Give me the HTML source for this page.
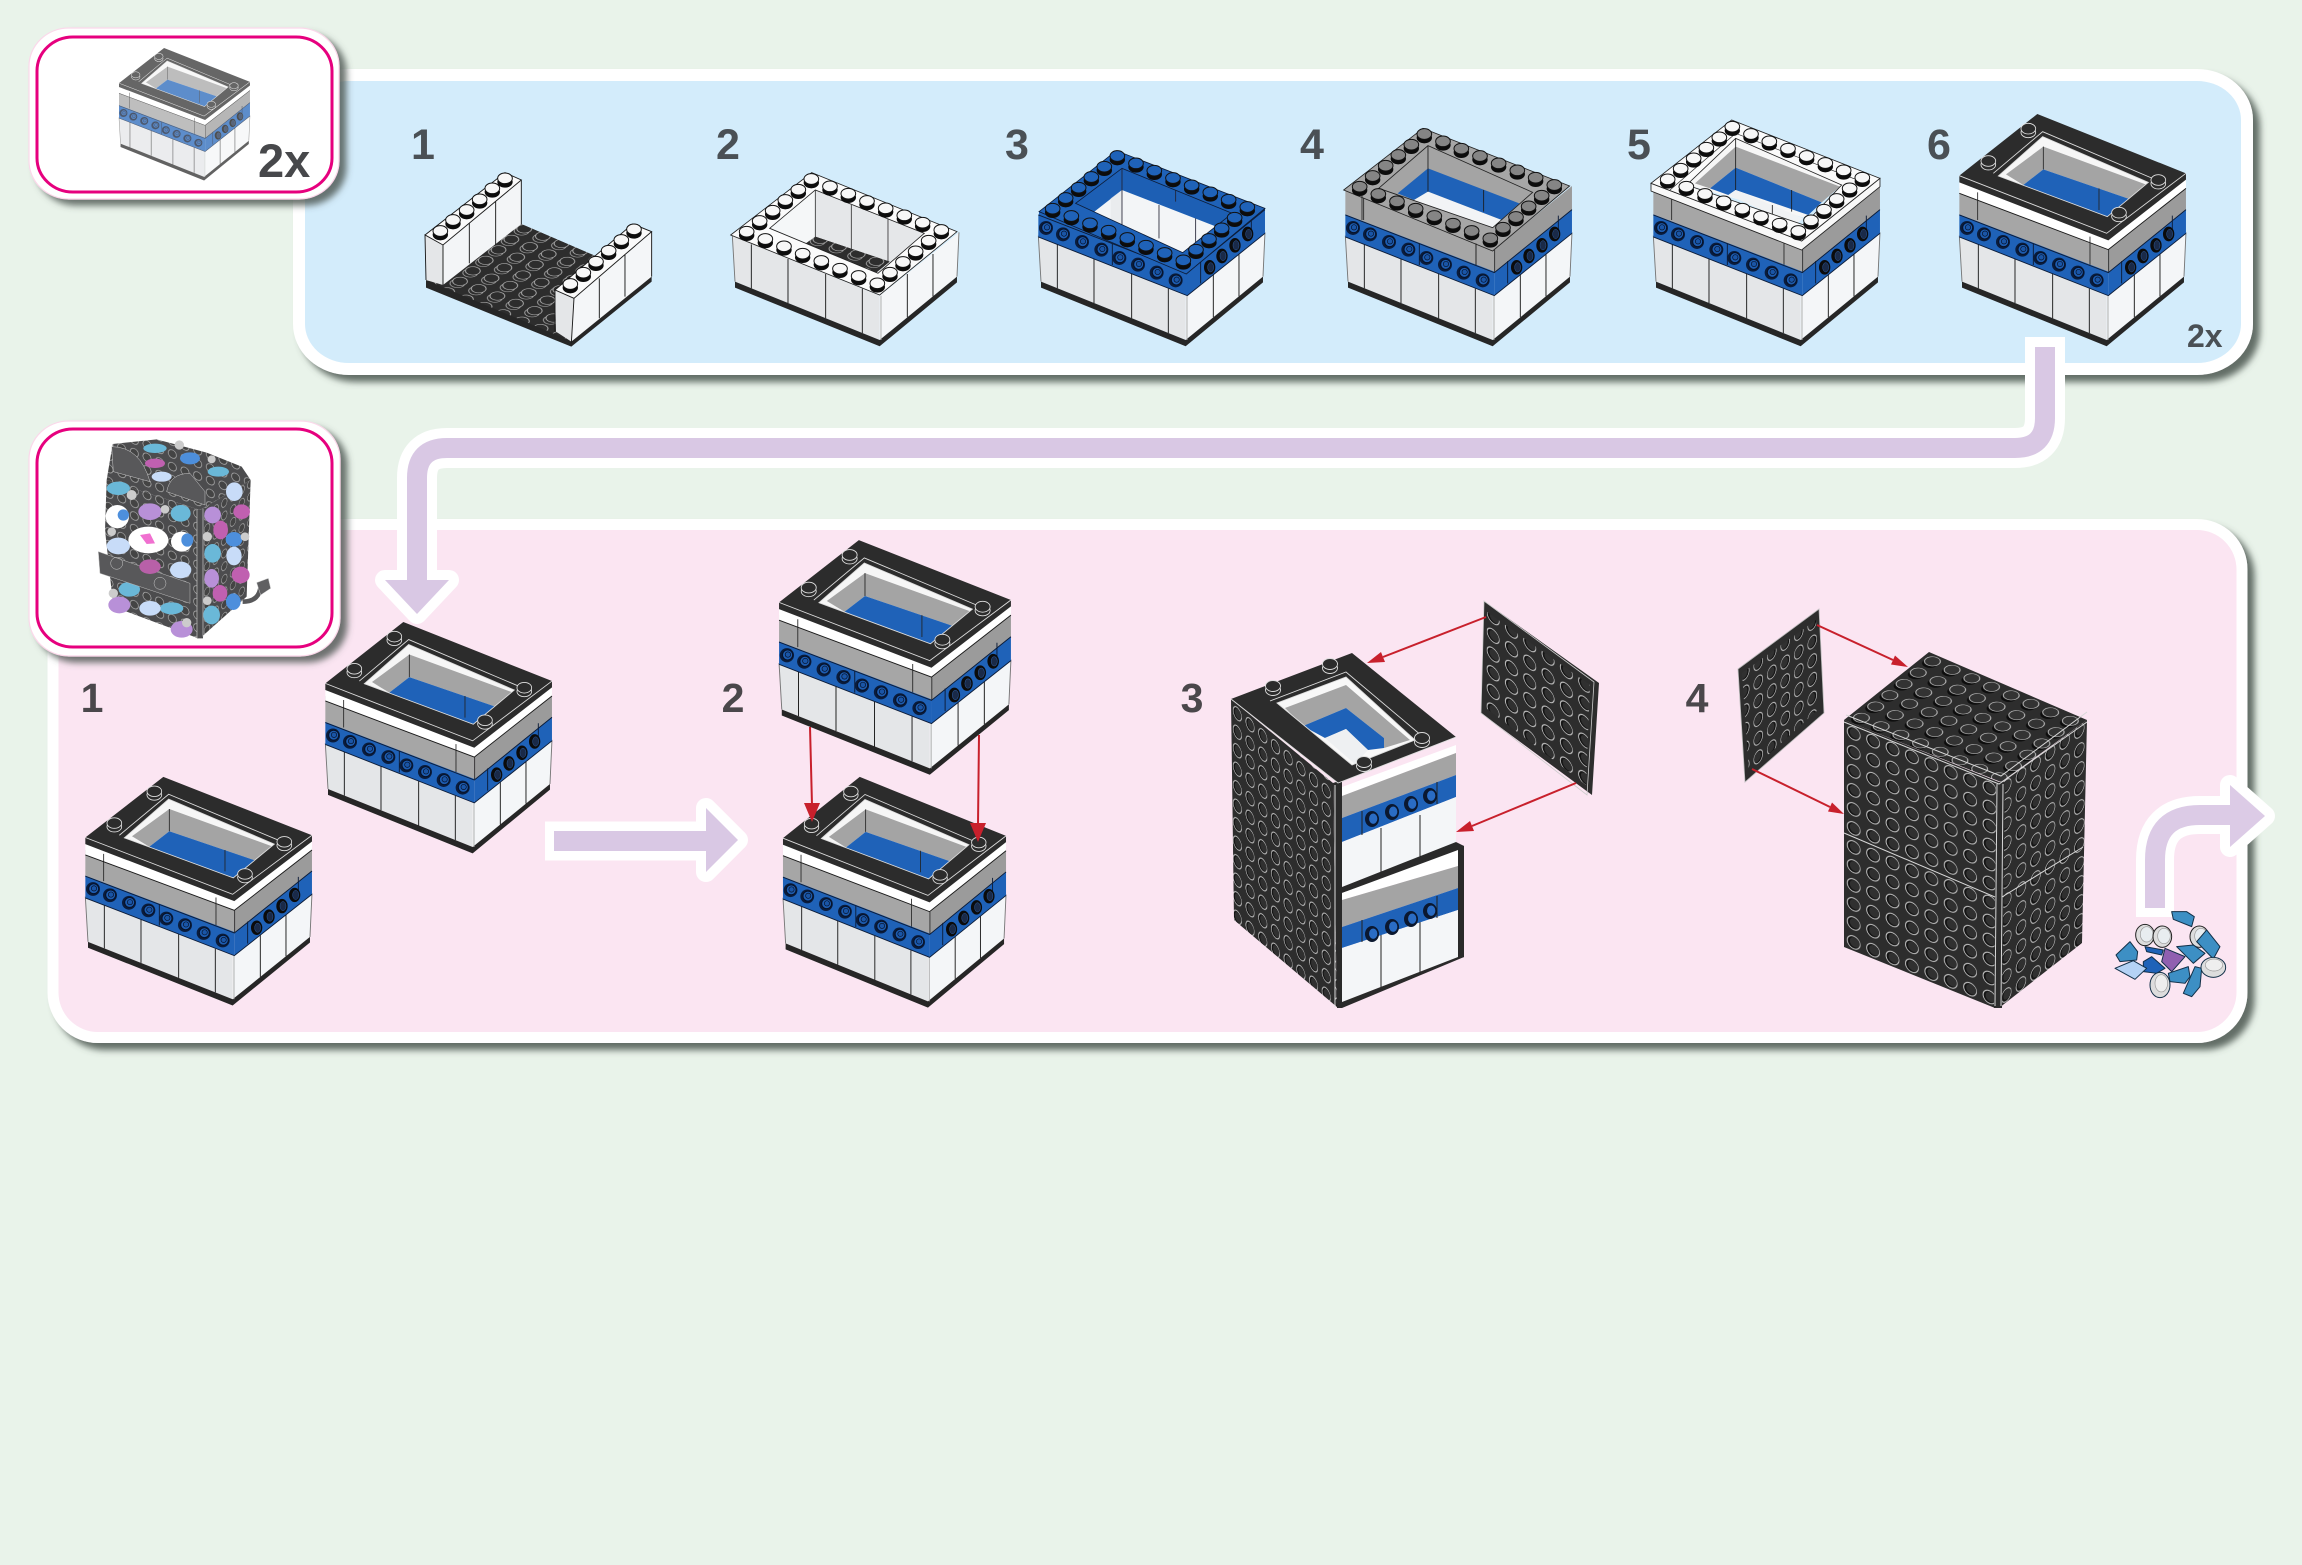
<!DOCTYPE html>
<html><head><meta charset="utf-8"><title>Build steps</title>
<style>html,body{margin:0;padding:0;background:#e9f3ea;width:2302px;height:1565px;overflow:hidden}svg{display:block}text{font-family:"Liberation Sans",sans-serif;font-weight:700}</style>
</head><body>
<svg xmlns="http://www.w3.org/2000/svg" width="2302" height="1565" viewBox="0 0 2302 1565">
<defs>
<filter id="sh" x="-5%" y="-10%" width="110%" height="120%"><feDropShadow dx="7" dy="7" stdDeviation="3.5" flood-color="#4c554f" flood-opacity=".85"/></filter>
<filter id="sh2" x="-10%" y="-10%" width="120%" height="120%"><feDropShadow dx="7" dy="6" stdDeviation="3.5" flood-color="#4c554f" flood-opacity=".8"/></filter>
<g id="tile"><circle cx="10" cy="10" r="6.6" fill="#131313" stroke="#c8c8c8" stroke-width="1"/><circle cx="11.2" cy="9.6" r="5.2" fill="#303030"/></g>
<pattern id="p3L" width="20" height="20" patternUnits="userSpaceOnUse" patternTransform="matrix(.635 .55 0 .925 1231 699)"><rect width="20" height="20" fill="#2d2d2d"/><use href="#tile"/></pattern>
<pattern id="p4L" width="20" height="20" patternUnits="userSpaceOnUse" patternTransform="matrix(.97 .39 0 .95 1844 720)"><rect width="20" height="20" fill="#2d2d2d"/><use href="#tile"/></pattern>
<pattern id="p4R" width="20" height="20" patternUnits="userSpaceOnUse" patternTransform="matrix(.73 -.55 0 .95 1999 782)"><rect width="20" height="20" fill="#2d2d2d"/><use href="#tile"/></pattern>
<pattern id="p4T" width="20" height="20" patternUnits="userSpaceOnUse" patternTransform="matrix(.985 .425 -.71 .565 1929 652)"><rect width="20" height="20" fill="#2d2d2d"/><circle cx="10" cy="12.5" r="6.5" fill="#0d0d0d"/><circle cx="10" cy="9" r="6.5" fill="#333" stroke="#c4c4c4" stroke-width=".8"/></pattern>
<pattern id="pl3" width="20" height="20" patternUnits="userSpaceOnUse" patternTransform="matrix(.915 .675 0 .935 1484 601)"><rect width="20" height="20" fill="#2d2d2d"/><use href="#tile"/></pattern>
<pattern id="pl4" width="20" height="20" patternUnits="userSpaceOnUse" patternTransform="matrix(-.675 .5 0 .935 1819 609)"><rect width="20" height="20" fill="#2d2d2d"/><use href="#tile"/></pattern>
<pattern id="pS1" width="20" height="20" patternUnits="userSpaceOnUse" patternTransform="matrix(2.8 1.1 -1.925 1.575 318 348)"><rect width="20" height="20" fill="#2d2d2d"/><circle cx="10" cy="12" r="6.5" fill="#2d2d2d" stroke="#aaa" stroke-width=".8"/><circle cx="10" cy="8" r="6.5" fill="#2d2d2d" stroke="#bbb" stroke-width=".8"/></pattern>
<pattern id="catL" width="20" height="20" patternUnits="userSpaceOnUse" patternTransform="matrix(1.9 .7 0 1.9 0 0)"><rect width="20" height="20" fill="#4c4c4e"/><circle cx="10" cy="10" r="6.5" fill="#444" stroke="#bdbdbd" stroke-width="1"/></pattern>
<pattern id="catR" width="20" height="20" patternUnits="userSpaceOnUse" patternTransform="matrix(1.3 -.95 0 1.9 0 0)"><rect width="20" height="20" fill="#4c4c4e"/><circle cx="10" cy="10" r="6.5" fill="#444" stroke="#bdbdbd" stroke-width="1"/></pattern>

<g id="st"><ellipse cx="0" cy="11" rx="23" ry="17" fill="#0c0c0c"/><ellipse cx="0" cy="0" rx="22" ry="16" fill="currentColor" stroke="#111" stroke-width="3"/></g>
<g id="ring">
<use href="#st" x="265" y="87"/><use href="#st" x="321" y="109"/><use href="#st" x="376" y="131"/><use href="#st" x="432" y="153"/><use href="#st" x="488" y="175"/><use href="#st" x="544" y="196"/><use href="#st" x="599" y="218"/><use href="#st" x="655" y="240"/>
<use href="#st" x="226" y="119"/><use href="#st" x="187" y="150"/><use href="#st" x="149" y="182"/><use href="#st" x="110" y="213"/>
<use href="#st" x="617" y="272"/><use href="#st" x="578" y="304"/><use href="#st" x="540" y="336"/><use href="#st" x="501" y="368"/>
<use href="#st" x="71" y="245"/><use href="#st" x="127" y="267"/><use href="#st" x="183" y="289"/><use href="#st" x="239" y="311"/><use href="#st" x="295" y="333"/><use href="#st" x="351" y="356"/><use href="#st" x="407" y="378"/><use href="#st" x="463" y="400"/>
</g>

<g id="lower">
<polygon points="28,392 470,572 470,705 36,530" fill="#e4e6e8"/>
<polygon points="470,572 708,382 702,515 470,705" fill="#f4f6f8"/>
<polygon points="36,530 470,705 702,515 702,532 470,724 36,548" fill="#262626"/>
<g stroke="#1a1a1a" stroke-width="2.8" fill="none"><path d="M85,418V550M195,462V594M308,507V640M418,551V684M553,507V637M630,447V574"/><path d="M28,392L36,530M708,382L702,515" stroke="#777"/><path d="M474,572V705" stroke="#aaa"/></g>
</g>
<g id="ls"><circle cx="-1" cy="1" r="21" fill="#0a1c3c"/><circle cx="1" cy="0" r="15" fill="#1d5cb0" stroke="#06122a" stroke-width="3"/><circle cx="2" cy="-1" r="8" fill="#1a55a6" stroke="#06122a" stroke-width="2"/></g>
<g id="rs"><ellipse rx="17" ry="22" fill="#0b0b0b"/><ellipse cx="3" rx="9" ry="14" fill="#1a2a48" stroke="#2c5a9c" stroke-width="1.5"/></g>
<g id="blue">
<polygon points="28,328 475,500 475,572 28,396" fill="#1f62b8"/>
<polygon points="475,503 708,314 708,385 475,572" fill="#1f62b8"/>
<g stroke="#0c1c38" stroke-width="2.8" fill="none"><path d="M250,415V480M515,468V535M667,332V395"/><path d="M28,396L475,572L708,385M28,330L475,503L708,314"/></g>
<use href="#ls" x="52" y="368"/><use href="#ls" x="103" y="387"/><use href="#ls" x="160" y="410"/><use href="#ls" x="218" y="433"/><use href="#ls" x="272" y="458"/><use href="#ls" x="328" y="478"/><use href="#ls" x="384" y="502"/><use href="#ls" x="441" y="525"/>
<use href="#rs" x="542" y="487"/><use href="#rs" x="579" y="453"/><use href="#rs" x="618" y="421"/><use href="#rs" x="656" y="387"/>
</g>
<g id="gray">
<polygon points="28,250 475,432 475,503 28,330" fill="#a6a6a6"/>
<polygon points="475,432 708,243 708,316 475,505" fill="#9b9b9b"/>
<path d="M83,262V345M420,395V482M476,435V503" stroke="#222" stroke-width="2.5" fill="none"/>
</g>
<g id="top6">
<polygon points="28,228 475,402 708,220 708,250 475,434 28,265" fill="#fff"/>
<path d="M28,265L475,434L708,250" stroke="#1a1a1a" stroke-width="2.8" fill="none"/>
<path d="M83,262V286M420,395V412" stroke="#222" stroke-width="2.5"/>
<polygon points="145,213 278,95 595,232 472,335" fill="#f6f6f6"/>
<polygon points="168,208 280,125 592,240 538,282 280,193 220,240" fill="#a4a4a4"/>
<polygon points="220,240 280,193 538,282 475,335 275,268" fill="#1f62b8"/>
<polygon points="275,262 472,335 450,342 265,275" fill="#fff"/>
<path d="M280,125V193M447,250V315" stroke="#222" stroke-width="2.5"/>
<path fill-rule="evenodd" d="M28,212L262,27L708,205L708,224L475,406L28,232ZM145,213L472,335L595,232L278,95Z" fill="#2c2c2c"/>
<g stroke="#ddd" stroke-width="2.6" fill="none"><path d="M130,205L278,80L612,222M28,212L470,385L708,205M145,213L472,335L595,232L278,95Z"/></g>
<g fill="#2c2c2c" stroke="#e0e0e0" stroke-width="2.6"><ellipse cx="235" cy="82" rx="22" ry="16"/><ellipse cx="235" cy="71" rx="22" ry="16"/><ellipse cx="115" cy="179" rx="22" ry="16"/><ellipse cx="115" cy="168" rx="22" ry="16"/><ellipse cx="625" cy="236" rx="22" ry="16"/><ellipse cx="625" cy="225" rx="22" ry="16"/><ellipse cx="507" cy="334" rx="22" ry="16"/><ellipse cx="507" cy="323" rx="22" ry="16"/></g>
</g>
<g id="box6"><use href="#lower"/><use href="#gray"/><use href="#blue"/><use href="#top6"/></g>

<g id="cstud"><ellipse cx="0" cy="0" rx="28" ry="32" fill="#ddd" stroke="#222" stroke-width="3"/><ellipse cx="5" cy="-2" rx="19" ry="23" fill="#e8edf0" stroke="#999" stroke-width="2"/></g>
<g id="ts"><ellipse rx="7" ry="8" fill="#0b1830"/><ellipse cx="1.2" cy="-.3" rx="4.6" ry="5.6" fill="#2a6cc4" stroke="#0b1830" stroke-width=".9"/></g>
</defs>

<rect width="2302" height="1565" fill="#e9f3ea"/>

<!-- panels -->
<rect x="299" y="75" width="1948" height="294" rx="50" ry="45" fill="#d3ecfb" stroke="#fff" stroke-width="12" filter="url(#sh)"/>
<rect x="53" y="524.5" width="2189" height="513" rx="45" ry="45" fill="#fbe5f2" stroke="#fff" stroke-width="11" filter="url(#sh)"/>

<!-- connector arrow -->
<path d="M2045,337V418Q2045,448 2015,448H447Q417,448 417,478V585" fill="none" stroke="#fff" stroke-width="40" stroke-linejoin="round"/>
<polygon points="385,580 449,580 417,614" fill="#fff" stroke="#fff" stroke-width="20" stroke-linejoin="round"/>
<path d="M2045,347V418Q2045,448 2015,448H447Q417,448 417,478V582" fill="none" stroke="#d9c8e4" stroke-width="20"/>
<polygon points="385,580 449,580 417,614" fill="#d9c8e4"/>

<!-- right arrow -->
<path d="M545,841H712" stroke="#fff" stroke-width="39" fill="none"/>
<polygon points="706,808 738,840 706,872" fill="#fff" stroke="#fff" stroke-width="20" stroke-linejoin="round"/>
<rect x="554" y="831" width="154" height="20" fill="#d9c8e4"/>
<polygon points="706,808 738,840 706,872" fill="#d9c8e4"/>

<!-- curved arrow -->
<path d="M2155,917V860Q2155,815 2200,815H2235" fill="none" stroke="#fff" stroke-width="38"/>
<polygon points="2230,785 2265,816 2230,847" fill="#fff" stroke="#fff" stroke-width="20" stroke-linejoin="round"/>
<path d="M2155,908V860Q2155,815 2200,815H2232" fill="none" stroke="#dccbe6" stroke-width="20"/>
<polygon points="2230,785 2265,816 2230,847" fill="#dccbe6"/>

<!-- thumbnails -->
<rect x="29" y="28" width="310" height="171" rx="40" ry="38" fill="#fff" stroke="#fbd8ea" stroke-width="1.2" filter="url(#sh2)"/>
<rect x="37" y="37" width="295" height="155" rx="36" ry="34" fill="#fff" stroke="#e6007e" stroke-width="3"/>
<rect x="29" y="421" width="311" height="235" rx="40" ry="38" fill="#fff" stroke="#fbd8ea" stroke-width="1.2" filter="url(#sh2)"/>
<rect x="37" y="429" width="295" height="218" rx="36" ry="34" fill="#fff" stroke="#e6007e" stroke-width="3"/>

<use href="#box6" transform="translate(113.6 42.9) scale(.1926 .19)" opacity=".72"/>
<text x="258" y="177" font-size="47" fill="#47484b">2x</text>

<!-- cat thumbnail -->
<g transform="translate(90 430) scale(.3333)">
<polygon points="50,150 68,42 200,28 350,68 455,110 482,150 330,240" fill="url(#catL)"/>
<polygon points="50,150 330,240 325,625 70,530 45,300" fill="url(#catL)"/>
<polygon points="330,240 482,150 470,500 330,625" fill="url(#catR)"/>
<path d="M330,240V625" stroke="#4c4c4e" stroke-width="18"/><path d="M321,240V625M339,236V620" stroke="#ccc" stroke-width="2"/>
<g fill="#6ab8d8"><ellipse cx="195" cy="55" rx="35" ry="14"/><ellipse cx="385" cy="125" rx="32" ry="15"/><ellipse cx="85" cy="175" rx="35" ry="20"/><ellipse cx="272" cy="250" rx="30" ry="25"/><ellipse cx="118" cy="478" rx="32" ry="22"/><ellipse cx="245" cy="535" rx="35" ry="18"/><ellipse cx="368" cy="370" rx="25" ry="28"/><ellipse cx="365" cy="555" rx="25" ry="28"/></g>
<g fill="#4d8fdc"><ellipse cx="300" cy="85" rx="30" ry="18"/><ellipse cx="432" cy="328" rx="25" ry="22"/><ellipse cx="430" cy="515" rx="22" ry="25"/></g>
<g fill="#c8dcf8"><ellipse cx="215" cy="140" rx="30" ry="15"/><ellipse cx="85" cy="348" rx="35" ry="25"/><ellipse cx="272" cy="420" rx="32" ry="25"/><ellipse cx="180" cy="535" rx="32" ry="22"/><ellipse cx="433" cy="185" rx="25" ry="28"/><ellipse cx="432" cy="378" rx="23" ry="28"/></g>
<g fill="#b890d8"><ellipse cx="180" cy="245" rx="35" ry="25"/><ellipse cx="88" cy="525" rx="33" ry="25"/><ellipse cx="275" cy="598" rx="33" ry="25"/><ellipse cx="368" cy="255" rx="25" ry="25"/><ellipse cx="365" cy="445" rx="22" ry="28"/></g>
<g fill="#c060b0"><ellipse cx="195" cy="100" rx="30" ry="14"/><ellipse cx="455" cy="245" rx="25" ry="22"/><ellipse cx="392" cy="300" rx="22" ry="28"/><ellipse cx="452" cy="435" rx="27" ry="25"/><ellipse cx="390" cy="490" rx="22" ry="25"/></g>
<g fill="#fff"><ellipse cx="82" cy="260" rx="35" ry="35"/><ellipse cx="175" cy="330" rx="60" ry="40"/><ellipse cx="275" cy="335" rx="32" ry="30"/></g>
<ellipse cx="100" cy="255" rx="17" ry="17" fill="#4d8fdc"/><ellipse cx="292" cy="330" rx="18" ry="20" fill="#4d8fdc"/>
<polygon points="150,315 180,310 195,340 170,342" fill="#f070d0"/>
<g fill="#ccc"><circle cx="125" cy="195" r="15"/><circle cx="225" cy="238" r="13"/><circle cx="65" cy="305" r="13"/><circle cx="70" cy="490" r="14"/><circle cx="290" cy="578" r="14"/><circle cx="352" cy="320" r="14"/><circle cx="352" cy="512" r="13"/><circle cx="268" cy="45" r="14"/><circle cx="365" cy="88" r="12"/><circle cx="465" cy="320" r="13"/></g>
<path d="M65,50Q150,50 180,155L70,125Z" fill="#58585a" stroke="#ccc" stroke-width="1.5"/>
<path d="M230,185Q240,130 300,130L345,185V225Z" fill="#58585a" stroke="#ccc" stroke-width="1.5"/>
<polygon points="25,365 300,460 300,520 180,480 30,430" fill="#58585a" stroke="#bbb" stroke-width="1.5"/>
<circle cx="80" cy="400" r="18" fill="none" stroke="#ccc" stroke-width="1.5"/><circle cx="210" cy="460" r="18" fill="none" stroke="#ccc" stroke-width="1.5"/>
<ellipse cx="180" cy="410" rx="32" ry="22" fill="#b860a8"/>
<path d="M458,515Q510,515 512,465" stroke="#58585a" stroke-width="14" fill="none"/>
<polygon points="500,458 535,445 542,475 512,495" fill="#606062" stroke="#ccc" stroke-width="1.5"/>
</g>

<!-- top row -->
<!-- step 1 -->
<g transform="translate(414 105) scale(.3333)">
<polygon points="36,525 322,357 549,455 426,555 426,680 472,705 702,515 713,515 713,530 472,725 36,548" fill="#262626"/>
<polygon points="36,525 322,357 549,455 426,555 426,680 472,708" fill="url(#pS1)"/>
<polygon points="33,390 87,420 87,540 36,525" fill="#e4e6e8"/>
<polygon points="87,420 322,225 322,357 87,540" fill="#f3f5f7"/>
<polygon points="33,390 273,203 322,225 87,420" fill="#fafafa"/>
<polygon points="423,555 480,580 472,710 426,680" fill="#e4e6e8"/>
<polygon points="480,580 713,380 713,515 472,710" fill="#f4f6f8"/>
<polygon points="423,555 656,357 713,380 480,580" fill="#fafafa"/>
<g stroke="#1a1a1a" stroke-width="2.8" fill="none"><path d="M33,390L273,203L322,225L87,420L33,390L36,525M87,420V540M166,355V475M245,290V420M322,225V357M423,555L656,357L713,380L480,580L423,555V680M480,580L472,715M556,520V640M633,450V575M713,380V515"/></g>
<g style="color:#f7f7f7"><use href="#st" x="79" y="378"/><use href="#st" x="117" y="345"/><use href="#st" x="158" y="315"/><use href="#st" x="197" y="283"/><use href="#st" x="235" y="250"/><use href="#st" x="273" y="220"/><use href="#st" x="469" y="537"/><use href="#st" x="508" y="503"/><use href="#st" x="546" y="470"/><use href="#st" x="584" y="437"/><use href="#st" x="622" y="405"/><use href="#st" x="660" y="373"/></g>
</g>
<!-- step 2 -->
<g transform="translate(723 105) scale(.3333)">
<use href="#lower"/>
<polygon points="140,370 277,255 604,385 465,505" fill="#e5e7e9"/>
<polygon points="140,370 277,255 277,400 228,440" fill="#f5f7f8"/>
<polygon points="228,430 277,395 500,470 445,515" fill="#2b2b2b"/>
<polygon points="228,430 277,395 500,470 445,515" fill="url(#pS1)"/>
<path d="M277,255V398M385,300V436M495,340V470" stroke="#333" stroke-width="2.5"/>
<path fill-rule="evenodd" d="M23,390L266,203L702,380L470,570ZM140,370L465,505L604,385L277,255Z" fill="#fbfbfb" stroke="#222" stroke-width="2.5"/>
<use href="#ring" transform="translate(0 135)" style="color:#f7f7f7"/>
</g>
<!-- step 3 -->
<g transform="translate(1029 105) scale(.3333)">
<use href="#lower"/>
<polygon points="30,320 472,507 708,310 708,385 472,572 28,395" fill="#1f62b8"/>
<use href="#blue"/>
<polygon points="177,335 279,255 562,365 461,443" fill="#f3f5f7"/>
<polygon points="140,295 279,190 610,325 562,365 279,255 177,335" fill="#1d5fb4"/>
<polygon points="245,280 279,255 279,385 245,385" fill="#e4e6e8" opacity=".6"/>
<path d="M279,190V255M279,255V360M390,300V400M500,340V430M440,225V290" stroke="#223" stroke-width="2.5"/>
<path fill-rule="evenodd" d="M30,320L262,137L708,310L472,507ZM140,295L461,443L610,325L279,190Z" fill="#1f62b8" stroke="#0c1c38" stroke-width="2.5"/>
<use href="#ring" transform="translate(0 66)" style="color:#1f62b8"/>
</g>
<!-- step 4 -->
<g transform="translate(1336 105) scale(.3333)">
<use href="#lower"/><use href="#gray"/><use href="#blue"/>
<polygon points="128,250 276,122 590,262 470,368" fill="#a4a4a4"/>
<polygon points="185,265 276,190 550,295 497,345 276,260 234,285" fill="#1f62b8"/>
<polygon points="234,285 276,260 497,345 470,368" fill="#f2f4f6"/>
<path d="M276,122V260M443,255V320" stroke="#1a1a1a" stroke-width="2.5"/>
<path fill-rule="evenodd" d="M23,255L261,70L701,243L470,438ZM128,250L470,368L590,262L276,122Z" fill="#a6a6a6" stroke="#222" stroke-width="2.5"/>
<path d="M78,272V345M420,415V482" stroke="#222" stroke-width="2.5"/>
<use href="#ring" style="color:#858585"/>
</g>
<!-- step 5 -->
<g transform="translate(1644 105) scale(.3333)">
<use href="#lower"/><use href="#gray"/><use href="#blue"/>
<polygon points="21,235 473,408 708,220 708,245 473,435 21,258" fill="#f8f8f8" stroke="#222" stroke-width="2.5"/>
<polygon points="128,240 275,100 593,240 480,338" fill="#f6f6f6"/>
<polygon points="153,235 275,125 588,245 533,292 275,188 198,250" fill="#a4a4a4"/>
<polygon points="198,250 275,188 533,292 493,330 275,255 253,270" fill="#1f62b8"/>
<polygon points="253,270 275,255 478,340 453,360" fill="#f0f2f4"/>
<path d="M275,100V255M443,255V320M385,300V345" stroke="#1a1a1a" stroke-width="2.5"/>
<path fill-rule="evenodd" d="M21,235L263,45L708,220L473,408ZM128,240L480,360L593,240L275,100Z" fill="#fafafa" stroke="#222" stroke-width="2.5"/>
<path d="M78,255L275,85L640,225" stroke="#222" stroke-width="2" fill="none"/>
<use href="#ring" transform="translate(0 -22)" style="color:#f7f7f7"/>
</g>
<!-- step 6 -->
<use href="#box6" transform="translate(1950 105) scale(.3333)"/>

<!-- bottom row boxes -->
<use href="#box6" transform="translate(76 768) scale(.3333 .328)"/>
<use href="#box6" transform="translate(316 613) scale(.3333 .332)"/>
<use href="#box6" transform="translate(769.5 531) scale(.341 .3367)"/>
<use href="#box6" transform="translate(773.8 768) scale(.328 .331)"/>

<!-- step 3 tall -->
<polygon points="1231,699 1333,783 1337,1007 1234,920" fill="url(#p3L)"/>
<polygon points="1333,783 1342,780 1342,1008 1337,1008" fill="#2a2a2a"/>
<path d="M1335,785V1007" stroke="#ddd" stroke-width="1"/>
<polygon points="1342,787 1456,745 1456,753 1342,796" fill="#fff"/>
<polygon points="1342,796 1456,753 1456,775 1342,818" fill="#a4a4a4"/>
<polygon points="1342,818 1456,775 1456,797 1342,842" fill="#1f62b8"/>
<polygon points="1342,842 1456,797 1456,843 1342,887" fill="#f4f6f8"/>
<path d="M1381,828V872M1420,815V858M1362,811V835M1437,782V804" stroke="#222" stroke-width="1"/>
<polygon points="1342,887 1456,842 1464,846 1464,850 1342,893" fill="#2a2a2a"/>
<polygon points="1342,893 1458,850 1458,866 1342,900" fill="#fff"/>
<polygon points="1342,900 1458,866 1458,888 1342,927" fill="#a4a4a4"/>
<polygon points="1342,927 1458,888 1458,910 1342,948" fill="#1f62b8"/>
<polygon points="1342,948 1458,910 1458,957 1342,1002" fill="#f4f6f8"/>
<path d="M1381,935V988M1420,922V972M1362,920V942M1437,896V918" stroke="#222" stroke-width="1"/>
<polygon points="1458,844 1464,846 1464,957 1458,959" fill="#2a2a2a"/>
<polygon points="1342,1002 1458,957 1464,957 1342,1008 1338,1008" fill="#2a2a2a"/>
<use href="#ts" x="1372" y="819"/><use href="#ts" x="1392" y="812"/><use href="#ts" x="1411" y="804"/><use href="#ts" x="1430" y="796"/><use href="#ts" x="1372" y="934"/><use href="#ts" x="1392" y="927"/><use href="#ts" x="1411" y="919"/><use href="#ts" x="1430" y="911"/>
<polygon points="1277,703 1346,677 1415,740 1352,765" fill="#f8f8f8"/>
<polygon points="1285,708 1346,685 1410,740 1384,748 1384,738 1346,708 1303,726" fill="#a4a4a4"/>
<polygon points="1303,726 1346,708 1384,738 1384,748 1368,750 1346,729 1325,738" fill="#1f62b8"/>
<polygon points="1325,738 1346,729 1368,750 1355,764" fill="#eef0f2"/>
<path fill-rule="evenodd" d="M1231,699L1352,653L1456,737L1338,783ZM1277,703L1352,765L1415,740L1346,677Z" fill="#2c2c2c"/>
<path d="M1231,699L1338,783L1456,737M1270,701L1346,672L1422,736M1277,703L1352,765L1415,740L1346,677Z" stroke="#ddd" stroke-width=".9" fill="none"/>
<g fill="#2c2c2c" stroke="#ddd" stroke-width=".9"><ellipse cx="1273" cy="690" rx="7.5" ry="5.5"/><ellipse cx="1273" cy="686" rx="7.5" ry="5.5"/><ellipse cx="1330" cy="668" rx="7.5" ry="5.5"/><ellipse cx="1330" cy="664" rx="7.5" ry="5.5"/><ellipse cx="1422" cy="742" rx="7.5" ry="5.5"/><ellipse cx="1422" cy="738" rx="7.5" ry="5.5"/><ellipse cx="1364" cy="766" rx="7.5" ry="5.5"/><ellipse cx="1364" cy="762" rx="7.5" ry="5.5"/></g>
<!-- floating plate 3 -->
<polygon points="1484,601 1599,683 1592,795 1481,713" fill="#2d2d2d"/>
<polygon points="1487,612 1590,685 1586,785 1486,708" fill="url(#pl3)"/>
<path d="M1484,601L1594,682L1587,795L1481,713Z" stroke="#ccc" stroke-width=".8" fill="none"/>

<!-- step 4 tall -->
<polygon points="1844,720 1999,782 1995,1008 1844,947" fill="url(#p4L)"/>
<polygon points="2003,782 2087,720 2082,943 1999,1008" fill="url(#p4R)"/>
<polygon points="1844,720 1929,652 2087,720 2001,782" fill="url(#p4T)"/>
<polygon points="1996,782 2005,782 2002,1008 1994,1008" fill="#2d2d2d"/>
<g stroke="#d8d8d8" stroke-width="1" fill="none"><path d="M1846,715L2001,776L2087,712M1844,722L1999,784L2087,722M1997,784L1995,1006M2003,784L2001,1006M1844,833L1995,897M2002,897L2083,847"/></g>
<!-- floating plate 4 -->
<polygon points="1819,609 1824,713 1745,782 1738,669" fill="#2d2d2d"/>
<polygon points="1816,620 1820,708 1749,772 1742,673" fill="url(#pl4)"/>
<path d="M1819,609L1824,713L1745,782L1738,669Z" stroke="#bbb" stroke-width=".8" fill="none"/>

<!-- red arrows -->
<g stroke="#c8202c" stroke-width="2" fill="none"><path d="M810,727L812,805M979,735L978,825M1486,617L1383,657M1576,783L1472,826M1817,625L1893,660M1752,769L1830,807"/></g>
<g fill="#c8202c"><polygon points="804,803 820,803 812,822"/><polygon points="970,823 986,823 978,842"/><polygon points="1385,662 1381,652 1367,663"/><polygon points="1474,831 1470,821 1456,832"/><polygon points="1895,655.5 1891,664.5 1908,667"/><polygon points="1832,802.5 1828,811.5 1844,814"/></g>

<!-- parts cluster -->
<g transform="translate(2100 770) scale(.3333)" stroke="#123048" stroke-width="3" stroke-linejoin="round">
<polygon points="215,425 260,425 283,440 275,470 220,448" fill="#3d8fc4"/>
<polygon points="48,555 90,515 113,545 110,570 60,575" fill="#3d8fc4"/>
<use href="#cstud" x="135" y="495"/><use href="#cstud" x="187" y="500"/><use href="#cstud" x="298" y="500"/>
<polygon points="320,480 360,530 340,567 290,515" fill="#3d8fc4"/>
<polygon points="230,530 280,525 315,550 280,580" fill="#3d8fc4"/>
<polygon points="135,530 190,540 185,555 140,545" fill="#1f62b8"/>
<polygon points="130,575 155,560 195,595 170,610 130,605" fill="#1f62b8"/>
<polygon points="45,595 100,572 140,595 105,628" fill="#b4d2f5"/>
<polygon points="195,535 255,560 215,605 185,575" fill="#9060b0"/>
<polygon points="205,610 265,590 270,620 255,640 210,635" fill="#3d8fc4"/>
<polygon points="250,670 285,590 305,595 300,650 275,680" fill="#3d8fc4"/>
<ellipse cx="340" cy="592" rx="37" ry="30" fill="#ddd"/><ellipse cx="180" cy="645" rx="30" ry="38" fill="#ddd"/>
<ellipse cx="342" cy="585" rx="26" ry="18" fill="#eee" stroke="#999" stroke-width="2"/><ellipse cx="184" cy="640" rx="19" ry="26" fill="#eee" stroke="#999" stroke-width="2"/>
</g>

<!-- labels -->
<g font-size="43" fill="#4a5055" text-anchor="middle">
<text x="423" y="159">1</text><text x="728" y="159">2</text><text x="1017" y="159">3</text><text x="1312" y="159">4</text><text x="1639" y="159">5</text><text x="1939" y="159">6</text>
</g>
<g font-size="41" fill="#4a474b" text-anchor="middle">
<text x="92" y="712">1</text><text x="733" y="712">2</text><text x="1192" y="712">3</text><text x="1697" y="712">4</text>
</g>
<text x="2187" y="347" font-size="32" fill="#4a5055">2x</text>
</svg>
</body></html>
